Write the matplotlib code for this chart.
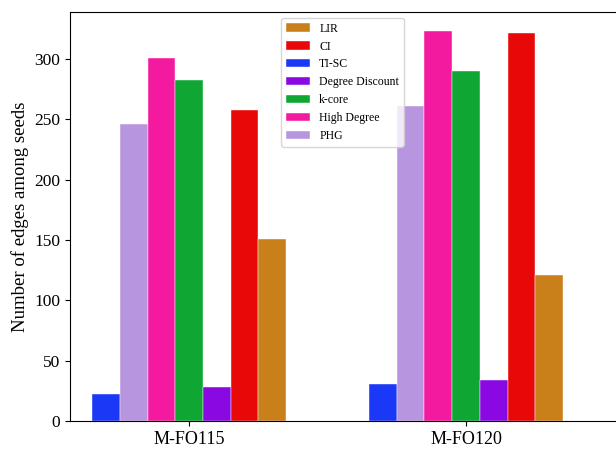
import numpy as np
import matplotlib
matplotlib.use("Agg")
import matplotlib.pyplot as plt
from matplotlib import rc

rc('font', **{'family': 'serif', 'serif': ['Liberation Serif', 'DejaVu Serif']})

datasets = ["M-FO115", "M-FO120"]

# bar order inside each group
methods = ["TI-SC", "PHG", "High Degree", "k-core", "Degree Discount", "CI", "LIR"]
colors = ["#1a38f5", "#b896df", "#f31aa0", "#0fa634", "#8a08e2", "#e80808", "#c9801a"]

ti_sc = [22, 31]
phg = [246, 261]
high_degree = [301, 323]
k_core = [283, 290]
degree_discount = [28, 34]
ci = [258, 322]
lir = [151, 121]

values = [ti_sc, phg, high_degree, k_core, degree_discount, ci, lir]
legend_order = ["LIR", "CI", "TI-SC", "Degree Discount", "k-core", "High Degree", "PHG"]

fig = plt.figure(figsize=(6.16, 4.5), dpi=100)
ax = fig.add_axes([70/616, 29/450, 550/616, 409/450])

x = np.arange(len(datasets))
width = 0.1
bars = {}
for i, (name, vals) in enumerate(zip(methods, values)):
    offset = (i - (len(methods) - 1) / 2) * width
    bars[name] = ax.bar(x + offset, vals, width, color=colors[i], label=name,
                        edgecolor='white', linewidth=0.3)

ax.set_xticks(x)
ax.set_xticklabels(datasets, fontsize=13)
ax.tick_params(axis='y', labelsize=12.5)
ax.set_ylabel("Number of edges among seeds", fontsize=13.5)
ax.set_xlim(-0.43, 1.556)
ax.set_ylim(0, 339)

handles = [bars[n] for n in legend_order]
ax.legend(handles, legend_order, loc='upper center', fontsize=8.5,
          bbox_to_anchor=(0.4955, 1.0))

fig.savefig("out.png", dpi=100)
